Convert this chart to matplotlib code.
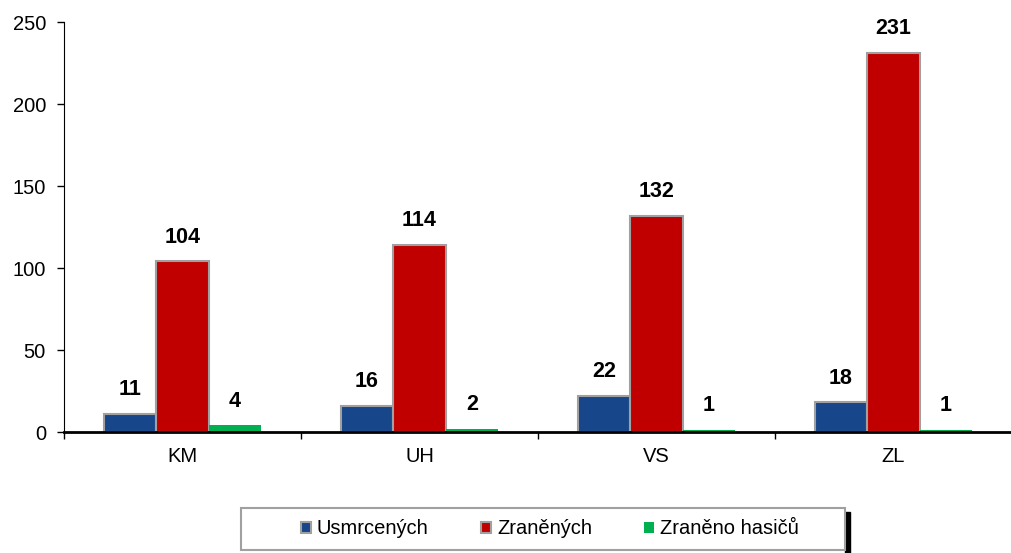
import numpy as np
import matplotlib.pyplot as plt
from matplotlib.patches import Rectangle

plt.rcParams['font.family'] = ['Liberation Sans', 'DejaVu Sans']

# Data
regions = ['KM', 'UH', 'VS', 'ZL']
usmrcenych = [11, 16, 22, 18]
zranenych = [104, 114, 132, 231]
zraneno_hasicu = [4, 2, 1, 1]
series_names = ['Usmrcených', 'Zraněných', 'Zraněno hasičů']

fig = plt.figure(figsize=(10.12, 5.53), dpi=100)
ax = fig.add_axes([64 / 1012, 1 - 432 / 553, (1012 - 64) / 1012, 410 / 553])

x = np.arange(len(regions))
w = 0.222
colors = ['#17468a', '#c00000', '#00b050']
edges = ['#a0a0a0', '#a0a0a0', 'none']
data = [usmrcenych, zranenych, zraneno_hasicu]

for i, (vals, c, ec, name) in enumerate(zip(data, colors, edges, series_names)):
    bars = ax.bar(x + (i - 1) * w, vals, w, color=c, edgecolor=ec,
                  linewidth=1.5, label=name, zorder=2)
    for b, v in zip(bars, vals):
        ax.annotate(str(v), (b.get_x() + b.get_width() / 2, v),
                    xytext=(0, 10), textcoords='offset points',
                    ha='center', va='bottom', fontsize=15.5, fontweight='bold')

ax.set_xlim(-0.5, 3.5)
ax.set_ylim(0, 250)
ax.set_yticks([0, 50, 100, 150, 200, 250])
ax.set_xticks(x)
ax.set_xticklabels(regions)
ax.set_xticks([-0.5, 0.5, 1.5, 2.5], minor=True)
ax.tick_params(axis='x', which='major', length=0, pad=11, labelsize=14.5)
ax.tick_params(axis='x', which='minor', length=5, width=1)
ax.tick_params(axis='y', length=5, width=1, labelsize=14.5, pad=8)

ax.spines['top'].set_visible(False)
ax.spines['right'].set_visible(False)
ax.spines['bottom'].set_linewidth(2)

# legend box with black shadow on right
fig.patches.append(Rectangle((845 / 1012, 0), 5 / 1012, 41 / 553,
                             transform=fig.transFigure, color='black', zorder=0))
fig.patches.append(Rectangle((241 / 1012, 3 / 553), 604 / 1012, 42 / 553,
                             transform=fig.transFigure, facecolor='white',
                             edgecolor='#a0a0a0', linewidth=1.5, zorder=1))
leg = fig.legend(loc='center', bbox_to_anchor=(550 / 1012, 1 - 529 / 553),
                 ncol=3, frameon=False, fontsize=14.5, handlelength=0.5,
                 handleheight=0.5, handletextpad=0.3, columnspacing=2.6)

fig.savefig('out.png', dpi=100)
